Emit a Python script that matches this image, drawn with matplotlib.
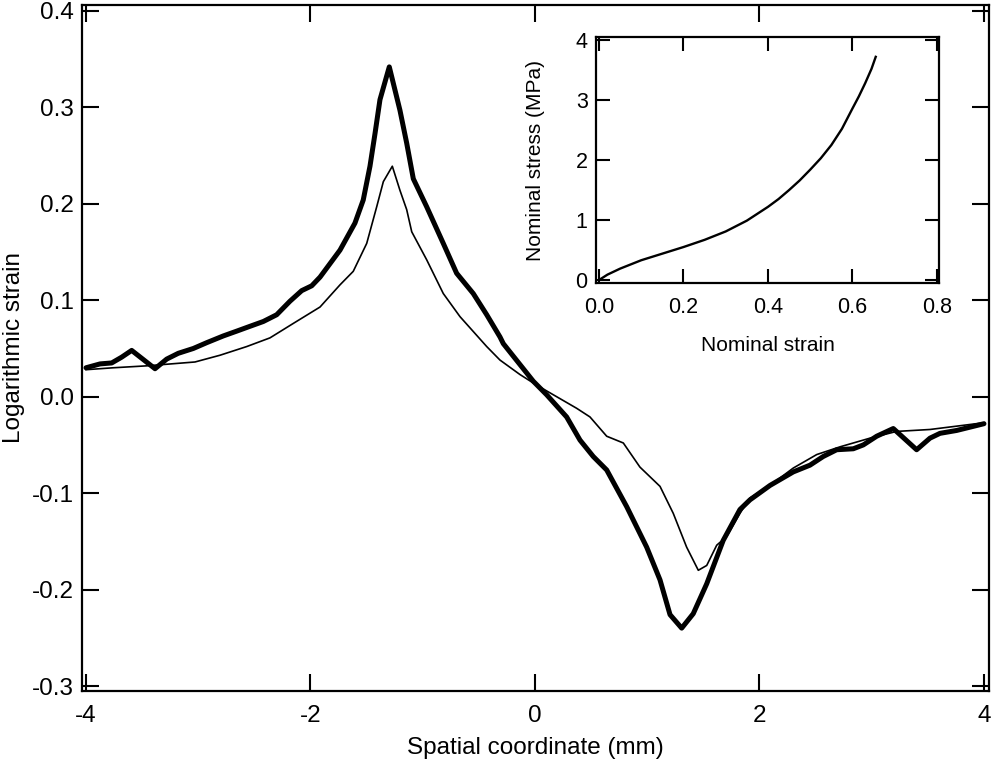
import matplotlib
matplotlib.use("Agg")
import matplotlib.pyplot as plt
import numpy as np

plt.rcParams['font.family'] = ['Liberation Sans', 'DejaVu Sans']
plt.rcParams['axes.unicode_minus'] = False

# Thick curve (logarithmic strain vs spatial coordinate)
thick_x = [-4.0, -3.875, -3.771, -3.682, -3.593, -3.385, -3.281, -3.178, -3.044, -2.925,
           -2.777, -2.657, -2.539, -2.420, -2.301, -2.183, -2.078, -1.989, -1.915, -1.737,
           -1.604, -1.530, -1.470, -1.425, -1.381, -1.298, -1.203, -1.143, -1.084, -0.965,
           -0.817, -0.698, -0.550, -0.430, -0.312, -0.282, -0.015, 0.104, 0.282, 0.401,
           0.519, 0.639, 0.817, 0.995, 1.114, 1.203, 1.307, 1.410, 1.530, 1.677,
           1.826, 1.915, 2.094, 2.301, 2.450, 2.568, 2.688, 2.836, 2.925, 3.044,
           3.192, 3.400, 3.519, 3.608, 3.757, 4.0]
thick_y = [0.030, 0.034, 0.035, 0.041, 0.048, 0.029, 0.039, 0.045, 0.050, 0.056,
           0.063, 0.068, 0.073, 0.078, 0.085, 0.099, 0.110, 0.115, 0.124, 0.152,
           0.180, 0.204, 0.239, 0.273, 0.308, 0.342, 0.297, 0.263, 0.226, 0.197,
           0.159, 0.128, 0.107, 0.085, 0.062, 0.055, 0.016, 0.002, -0.021, -0.045,
           -0.062, -0.076, -0.114, -0.156, -0.190, -0.226, -0.240, -0.225, -0.194, -0.149,
           -0.117, -0.107, -0.092, -0.078, -0.071, -0.062, -0.055, -0.054, -0.050, -0.041,
           -0.033, -0.055, -0.043, -0.038, -0.035, -0.028]

# Thin curve
thin_x = [-4.0, -3.757, -3.459, -3.029, -2.806, -2.568, -2.361, -2.153, -1.915, -1.737,
          -1.619, -1.499, -1.410, -1.351, -1.271, -1.203, -1.143, -1.098, -0.965, -0.817,
          -0.668, -0.430, -0.312, -0.134, 0.015, 0.193, 0.371, 0.490, 0.639, 0.787,
          0.935, 1.114, 1.232, 1.351, 1.455, 1.530, 1.619, 1.708, 1.826, 1.915,
          2.094, 2.301, 2.510, 2.717, 2.984, 3.222, 3.519, 4.0]
thin_y = [0.028, 0.030, 0.032, 0.036, 0.043, 0.052, 0.061, 0.076, 0.093, 0.116,
          0.130, 0.159, 0.197, 0.223, 0.239, 0.214, 0.194, 0.171, 0.142, 0.107,
          0.083, 0.052, 0.038, 0.023, 0.012, 0.000, -0.012, -0.021, -0.041, -0.048,
          -0.073, -0.093, -0.121, -0.156, -0.180, -0.175, -0.154, -0.145, -0.121, -0.105,
          -0.092, -0.074, -0.060, -0.052, -0.043, -0.036, -0.034, -0.027]

# Inset: nominal stress vs nominal strain
inset_strain = [0.0, 0.02, 0.05, 0.1, 0.15, 0.2, 0.25, 0.3, 0.35, 0.4, 0.425, 0.45,
                0.475, 0.5, 0.525, 0.55, 0.575, 0.6, 0.615, 0.63, 0.645, 0.655]
inset_stress = [0.0, 0.09, 0.19, 0.33, 0.44, 0.55, 0.67, 0.81, 0.99, 1.22, 1.35, 1.50,
                1.66, 1.84, 2.03, 2.25, 2.52, 2.86, 3.06, 3.28, 3.52, 3.72]

main_xticks = [-4, -2, 0, 2, 4]
main_yticks = [0.4, 0.3, 0.2, 0.1, 0.0, -0.1, -0.2, -0.3]
inset_xticks = [0.0, 0.2, 0.4, 0.6, 0.8]
inset_yticks = [0, 1, 2, 3, 4]

fig = plt.figure(figsize=(9.91, 7.78), dpi=100)
ax = fig.add_axes([0.0827, 0.1118, 0.998 - 0.0827, 0.9936 - 0.1118])

ax.plot(thin_x, thin_y, color='black', lw=1.2, solid_joinstyle='round')
ax.plot(thick_x, thick_y, color='black', lw=3.6, solid_joinstyle='round', solid_capstyle='round')
ax.set_xlim(-4.036, 4.045)
ax.set_ylim(-0.3052, 0.4062)
ax.set_xticks(main_xticks)
ax.set_xticklabels([str(t) for t in main_xticks])
ax.set_yticks(main_yticks)
ax.set_yticklabels([f"{t:.1f}" for t in main_yticks])
ax.tick_params(direction='in', length=12, width=1.5, top=True, right=True,
               labelsize=17.5)
ax.tick_params(axis='x', pad=10)
ax.tick_params(axis='y', pad=6)
for s in ax.spines.values():
    s.set_linewidth(1.6)
ax.set_xlabel('Spatial coordinate (mm)', fontsize=17.5, labelpad=7)
ax.set_ylabel('Logarithmic strain', fontsize=17.5, labelpad=5)

ins = fig.add_axes([0.6014, 0.6362, 0.9475 - 0.6014, 0.9524 - 0.6362])
ins.plot(inset_strain, inset_stress, color='black', lw=1.7, solid_joinstyle='round')
ins.set_xlim(-0.0071, 0.8047)
ins.set_ylim(-0.05, 4.05)
ins.set_xticks(inset_xticks)
ins.set_xticklabels([f"{t:.1f}" for t in inset_xticks])
ins.set_yticks(inset_yticks)
ins.set_yticklabels([str(t) for t in inset_yticks])
ins.tick_params(direction='in', length=10, width=1.5, top=True, right=True,
                labelsize=15.5)
ins.tick_params(axis='x', pad=10)
ins.tick_params(axis='y', pad=6)
for s in ins.spines.values():
    s.set_linewidth(1.6)
ins.set_xlabel('Nominal strain', fontsize=15, labelpad=13)
ins.set_ylabel('Nominal stress (MPa)', fontsize=15, labelpad=22)

fig.savefig('out.png', dpi=100)
